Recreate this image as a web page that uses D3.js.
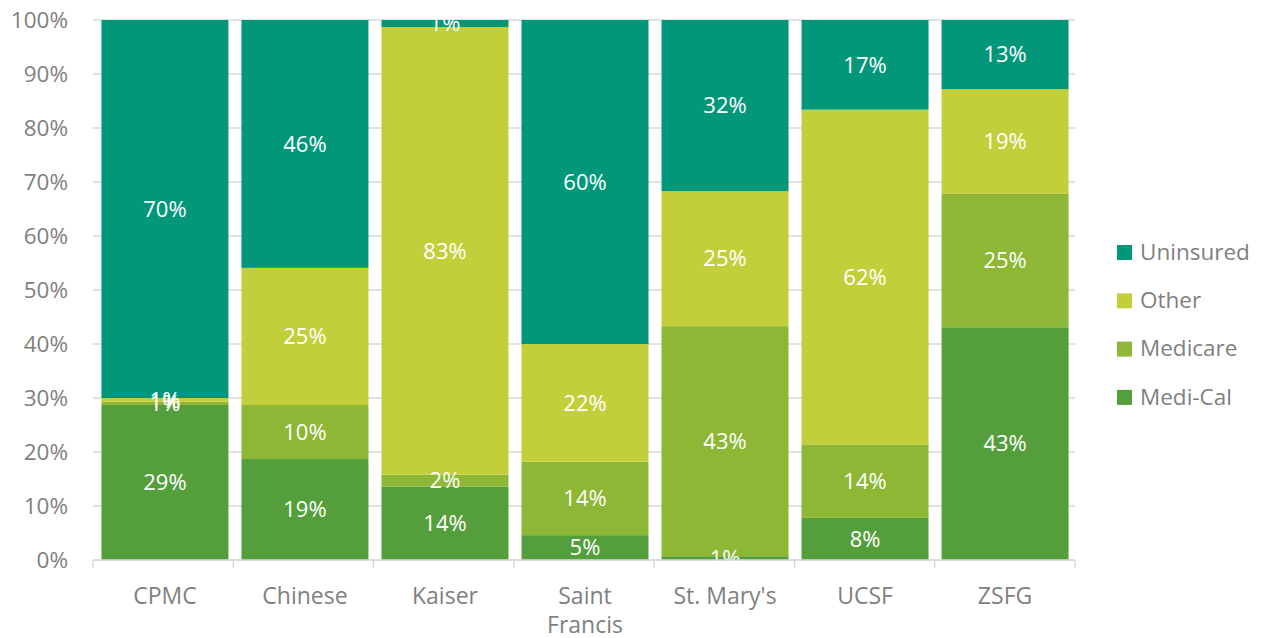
<!DOCTYPE html>
<html>
<head>
<meta charset="utf-8">
<script src="https://cdn.jsdelivr.net/npm/d3@7"></script>
<style>
  body { margin: 0; background: #fff; }
  svg { font-family: "Open Sans", sans-serif; }
</style>
</head>
<body>
<svg width="1261" height="638"></svg>
<script>
const hospitals = ["CPMC", "Chinese", "Kaiser", "Saint Francis", "St. Mary's", "UCSF", "ZSFG"];
const series = ["Medi-Cal", "Medicare", "Other", "Uninsured"];
const mediCal   = [28.7, 18.7, 13.6, 4.6, 0.7, 7.8, 43.1];
const medicare  = [0.6, 10.0, 2.2, 13.6, 42.6, 13.6, 24.7];
const other     = [0.7, 25.4, 82.9, 21.8, 25.0, 62.0, 19.4];
const uninsured = [70.0, 45.9, 1.3, 60.0, 31.7, 16.6, 12.8];
const yTicks = [0, 10, 20, 30, 40, 50, 60, 70, 80, 90, 100];
const colors = ["#549f3b", "#8db734", "#c3cf3a", "#03977a"];

const rows = hospitals.map((h, i) => ({
  name: h,
  "Medi-Cal": mediCal[i],
  "Medicare": medicare[i],
  "Other": other[i],
  "Uninsured": uninsured[i]
}));

const svg = d3.select("svg");
const m = { left: 95, right: 1075, top: 20, bottom: 560 };

const x = d3.scaleBand().domain(hospitals).range([m.left, m.right]).paddingInner(0.093).paddingOuter(0.046);
const y = d3.scaleLinear().domain([0, 100]).range([m.bottom, m.top]);
const color = d3.scaleOrdinal().domain(series).range(colors);

// gridlines
svg.append("g")
  .selectAll("line")
  .data(yTicks)
  .join("line")
  .attr("x1", m.left - 2).attr("x2", m.right)
  .attr("y1", d => y(d)).attr("y2", d => y(d))
  .attr("stroke", "#d9d9d9").attr("stroke-width", 1.3);

// y labels
svg.append("g")
  .selectAll("text")
  .data(yTicks)
  .join("text")
  .attr("x", 68).attr("y", d => y(d))
  .attr("dy", "0.35em")
  .attr("text-anchor", "end")
  .attr("fill", "#7f7f7f")
  .attr("font-size", 22.5)
  .text(d => d + "%");

const stacked = d3.stack().keys(series)(rows);

const layer = svg.append("g")
  .selectAll("g")
  .data(stacked)
  .join("g")
  .attr("fill", d => color(d.key));

layer.selectAll("rect")
  .data(d => d)
  .join("rect")
  .attr("x", d => x(d.data.name))
  .attr("width", x.bandwidth())
  .attr("y", d => y(d[1]))
  .attr("height", d => y(d[0]) - y(d[1]));

// value labels
const labels = svg.append("g");
stacked.forEach(s => {
  labels.selectAll(null)
    .data(s)
    .join("text")
    .attr("x", d => x(d.data.name) + x.bandwidth() / 2)
    .attr("y", d => y((d[0] + d[1]) / 2))
    .attr("dy", "0.35em")
    .attr("text-anchor", "middle")
    .attr("fill", "#fff")
    .attr("font-size", 22)
    .text(d => Math.round(d[1] - d[0]) + "%");
});

// x axis line and ticks
const axis = svg.append("g").attr("stroke", "#d9d9d9").attr("stroke-width", 1.3);
axis.append("line")
  .attr("x1", m.left - 2).attr("x2", m.right)
  .attr("y1", m.bottom).attr("y2", m.bottom);
const step = (m.right - m.left + 2) / hospitals.length;
axis.selectAll(null)
  .data(d3.range(hospitals.length + 1))
  .join("line")
  .attr("x1", i => m.left - 2 + i * step)
  .attr("x2", i => m.left - 2 + i * step)
  .attr("y1", m.bottom).attr("y2", m.bottom + 8);

// x labels
const xl = svg.append("g")
  .selectAll("text")
  .data(hospitals)
  .join("text")
  .attr("x", d => x(d) + x.bandwidth() / 2)
  .attr("y", 604)
  .attr("text-anchor", "middle")
  .attr("fill", "#7f7f7f")
  .attr("font-size", 23);
xl.each(function(d) {
  const t = d3.select(this);
  const parts = d === "Saint Francis" ? ["Saint", "Francis"] : [d];
  parts.forEach((p, i) => {
    t.append("tspan")
      .attr("x", x(d) + x.bandwidth() / 2)
      .attr("dy", i === 0 ? 0 : 29)
      .text(p);
  });
});

// legend
const legend = svg.append("g")
  .selectAll("g")
  .data(series.slice().reverse())
  .join("g")
  .attr("transform", (d, i) => `translate(1117, ${252 + i * 48.3})`);
legend.append("rect")
  .attr("x", 0).attr("y", -7)
  .attr("width", 15).attr("height", 15)
  .attr("fill", d => color(d));
legend.append("text")
  .attr("x", 23).attr("dy", "0.35em")
  .attr("fill", "#7f7f7f")
  .attr("font-size", 22.5)
  .text(d => d);
</script>
</body>
</html>
